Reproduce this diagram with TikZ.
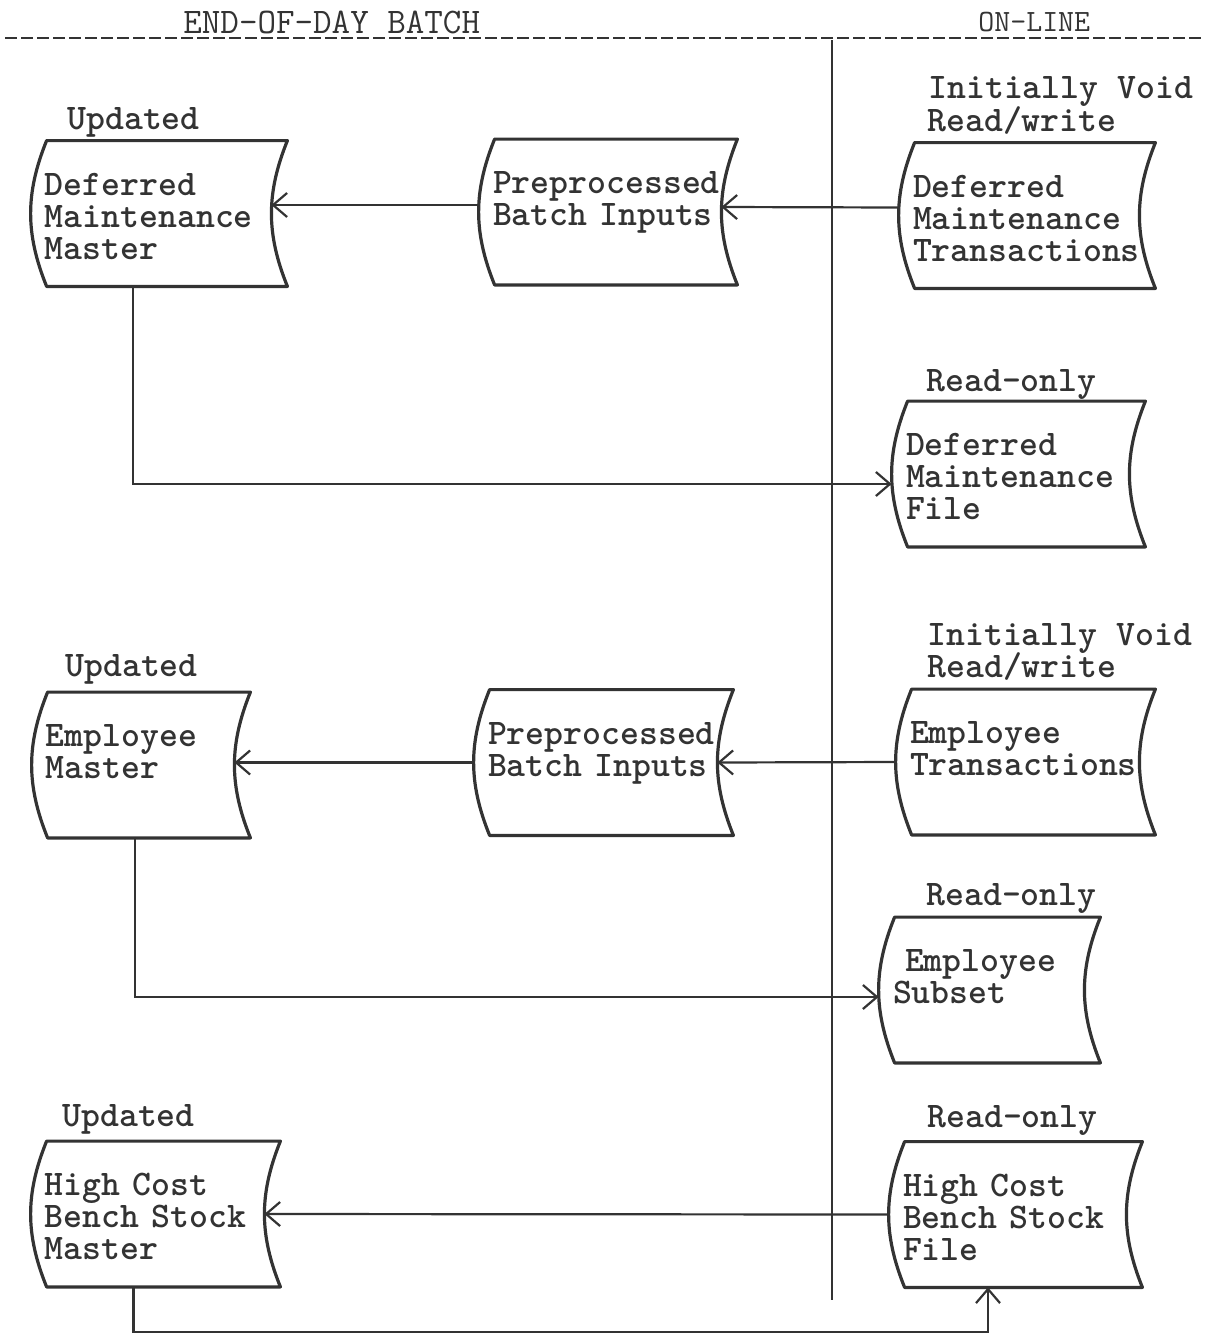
\documentclass[tikz,border=0pt]{standalone}
\usepackage{fontspec}
\usepackage{tikz}
\usetikzlibrary{positioning,arrows.meta}

\begin{document}
\begin{tikzpicture}[
    x=0.5pt, y=-0.5pt,
    file/.style={inner xsep=7pt, inner ysep=0pt, minimum height=72.5pt,
      text width={#1*0.5pt-14pt}, align=left, text height=12pt, text depth=30.5pt,
      font=\fontsize{18pt}{16pt}\selectfont\ttfamily\bfseries, text=black!80},
    note/.style={anchor=base west, inner sep=0pt,
      font=\fontsize{18pt}{16pt}\selectfont\ttfamily\bfseries, text=black!80},
    fileline/.style={draw=black!80, line width=1.6pt, line join=round},
    flow/.style={-{Straight Barb[length=7pt,width=12pt,line width=1.1pt]}, line width=1.1pt, draw=black!80},
    divider/.style={draw=black!80, line width=1.1pt}
  ]
    \useasboundingbox (0,0) rectangle (1205,1334);

    % batch / on-line split
    \coordinate (ruleL) at (5,38);
    \coordinate (ruleR) at (1205,38);
    \coordinate (divT) at (832,40);
    \coordinate (divB) at (832,1300);
    \draw[divider, dash pattern=on 6pt off 2pt] (ruleL) -- (ruleR);
    \draw[divider] (divT) -- (divB);
    \node[note, font=\fontsize{18pt}{18pt}\selectfont\ttfamily] (batch) at (183,33) {END-OF-DAY BATCH};
    \node[note, font=\fontsize{15.5pt}{15pt}\selectfont\ttfamily] (online) at (978,31) {ON-LINE};

    % files
    \node[file=240] (dmm) at (151,213.5) {Deferred\\Maintenance\\Master};
    \node[file=242] (pbi1) at (600,212) {Preprocessed\\Batch~Inputs};
    \node[file=240] (dmt) at (1019,215.5) {Deferred\\Maintenance\\Transactions};
    \node[file=237] (dmf) at (1010.5,474) {Deferred\\Maintenance\\File};
    \node[file=202] (em) at (133,765) {Employee\\Master};
    \node[file=243] (pbi2) at (595.5,762.5) {Preprocessed\\Batch~Inputs};
    \node[file=243] (et) at (1017.5,762) {Employee\\Transactions};
    \node[file=205] (es) at (981.5,990) {~Employee\\Subset};
    \node[file=233] (hcbsm) at (147.5,1214) {High~Cost\\Bench~Stock\\Master};
    \node[file=237] (hcbsf) at (1007.5,1214.5) {High~Cost\\Bench~Stock\\File};

    \foreach \f in {dmm,pbi1,dmt,dmf,em,pbi2,et,es,hcbsm,hcbsf}
      \draw[fileline] ([xshift=8pt]\f.north east) to[bend right=22] ([xshift=8pt]\f.south east)
        -- ([xshift=8pt]\f.south west) to[bend left=22] ([xshift=8pt]\f.north west) -- cycle;

    % file notes
    \node[note] (upd1) at (67,129) {Updated};
    \node[note] (void1) at (928,98) {Initially Void};
    \node[note] (rw1) at (927,131) {Read/write};
    \node[note] (ro1) at (926,391) {Read-only};
    \node[note] (upd2) at (65,676) {Updated};
    \node[note] (void2) at (927,645) {Initially Void};
    \node[note] (rw2) at (927,677) {Read/write};
    \node[note] (ro2) at (926,905) {Read-only};
    \node[note] (upd3) at (62,1126) {Updated};
    \node[note] (ro3) at (927,1127) {Read-only};

    \coordinate (low) at (500,1332);

    \draw[flow] ([yshift=4pt]dmt.west) -- ([yshift=2.5pt]pbi1.east);
    \draw[flow] ([yshift=3.5pt]pbi1.west) -- ([yshift=4.25pt]dmm.east);
    \draw[flow] ([xshift=-9pt]dmm.south) |- ([yshift=-5pt]dmf.west);
    \draw[flow] (et.west) -- (pbi2.east);
    \draw[flow] (pbi2.west) -- ([yshift=1.25pt]em.east);
    \draw[flow] ([xshift=1pt]em.south) |- ([yshift=-3.5pt]es.west);
    \draw[flow] (hcbsf.west) -- (hcbsm.east);
    \draw[flow] ([xshift=-7pt]hcbsm.south) |- (low) -| ([xshift=-9.75pt]hcbsf.south);
  \end{tikzpicture}
\end{document}
